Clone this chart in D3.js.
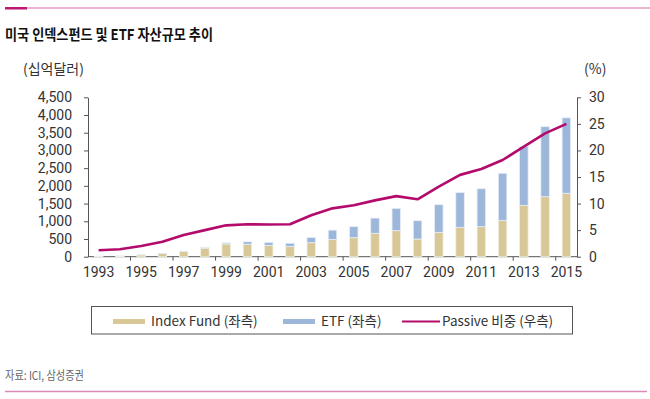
<!DOCTYPE html>
<html>
<head>
<meta charset="utf-8">
<script src="https://cdn.jsdelivr.net/npm/d3@7"></script>
<style>
  body { margin: 0; background: #fff; }
  svg text { font-family: "Noto Sans CJK KR", "Noto Sans", sans-serif; }
</style>
</head>
<body>
<svg id="chart" width="650" height="399"></svg>
<script>
// years on the x axis
const years = d3.range(1993, 2016);
// 인덱스펀드 (십억달러)
const indexFund = [15, 20, 50, 90, 150, 240, 360, 350, 320, 285, 395, 490, 537, 660, 735, 500, 688, 829, 848, 1026, 1450, 1695, 1790];
// ETF (십억달러)
const etf = [1, 1, 2, 3, 7, 16, 30, 70, 85, 95, 150, 260, 310, 430, 630, 515, 780, 980, 1070, 1330, 1660, 1975, 2130];
// Passive 비중 (%)
const passive = [1.2, 1.4, 2.0, 2.8, 4.1, 5.0, 5.9, 6.1, 6.05, 6.1, 7.8, 9.1, 9.7, 10.6, 11.4, 10.8, 13.2, 15.4, 16.5, 18.2, 20.7, 23.2, 25.0];
const leftTicks = [0, 500, 1000, 1500, 2000, 2500, 3000, 3500, 4000, 4500];
const rightTicks = [0, 5, 10, 15, 20, 25, 30];

const svg = d3.select("#chart");
const plotL = 88, plotR = 577, plotT = 97.3, plotB = 256.7;
const numFont = "Roboto, 'Liberation Sans', sans-serif";

const colIndex = "#d9c897", colEtf = "#9cb7da", colLine = "#b40a6c";

// top / bottom rules
svg.append("line").attr("x1", 5).attr("x2", 650).attr("y1", 8).attr("y2", 8)
  .attr("stroke", "#d66aa3").attr("stroke-width", 1);
svg.append("rect").attr("x", 5).attr("y", 7).attr("width", 22).attr("height", 2.5).attr("fill", "#bf1673");
svg.append("line").attr("x1", 5).attr("x2", 647).attr("y1", 391.5).attr("y2", 391.5)
  .attr("stroke", "#d98ab5").attr("stroke-width", 1.5);

svg.append("text").attr("x", 5).attr("y", 40).text("미국 인덱스펀드 및 ETF 자산규모 추이")
  .attr("font-size", 15).attr("font-weight", "bold").attr("fill", "#111")
  .attr("textLength", 208).attr("lengthAdjust", "spacingAndGlyphs");

svg.append("text").attr("x", 5).attr("y", 380).text("자료: ICI, 삼성증권")
  .attr("font-size", 12).attr("fill", "#666")
  .attr("textLength", 79).attr("lengthAdjust", "spacingAndGlyphs");

// scales
const x = d3.scaleBand().domain(years).range([plotL, plotR]).paddingInner(0.6).paddingOuter(0.3);
const yL = d3.scaleLinear().domain([0, 4500]).range([plotB, plotT]);
const yR = d3.scaleLinear().domain([0, 30]).range([plotB, plotT]);
const step = (plotR - plotL) / years.length;

// axes
const fmt = d3.format(",");
const gL = svg.append("g").attr("transform", `translate(${plotL},0)`)
  .call(d3.axisLeft(yL).tickValues(leftTicks).tickFormat(fmt).tickSize(4).tickSizeOuter(0).tickPadding(12));
const gR = svg.append("g").attr("transform", `translate(${plotR},0)`)
  .call(d3.axisRight(yR).tickValues(rightTicks).tickSize(4).tickSizeOuter(0).tickPadding(8));

// x axis: ticks at the left edge of every odd year, labels centred on the bar
const gX = svg.append("g").attr("transform", `translate(0,${plotB})`);
gX.append("line").attr("x1", plotL).attr("x2", plotR).attr("stroke", "#555");
const odd = years.filter(d => d % 2 === 1);
gX.selectAll("line.tick").data(odd.slice(1)).join("line").attr("class", "tick")
  .attr("x1", d => plotL + years.indexOf(d) * step)
  .attr("x2", d => plotL + years.indexOf(d) * step)
  .attr("y1", 0).attr("y2", 4).attr("stroke", "#555");
gX.selectAll("text").data(odd).join("text")
  .attr("x", d => x(d) + x.bandwidth() / 2).attr("y", 20.5)
  .attr("text-anchor", "middle").attr("font-size", 14).attr("fill", "#333")
  .style("font-family", numFont).text(d => d);

[gL, gR].forEach(g => {
  g.select(".domain").attr("stroke", "#555");
  g.selectAll(".tick line").attr("stroke", "#555");
  g.selectAll(".tick text").attr("font-size", 14).attr("fill", "#333")
    .style("font-family", numFont);
});

svg.append("text").attr("x", 23).attr("y", 74).text("(십억달러)").attr("font-size", 14).attr("fill", "#333");
svg.append("text").attr("x", 584).attr("y", 74).text("(%)").attr("font-size", 14).attr("fill", "#333");

// stacked bars
const bars = svg.append("g");
bars.selectAll("rect.idx").data(years).join("rect").attr("class", "idx")
  .attr("x", d => x(d)).attr("width", x.bandwidth())
  .attr("y", (d, i) => yL(indexFund[i])).attr("height", (d, i) => plotB - yL(indexFund[i]))
  .attr("fill", colIndex).attr("stroke", "#f3efe2").attr("stroke-width", 0.8);
bars.selectAll("rect.etf").data(years).join("rect").attr("class", "etf")
  .attr("x", d => x(d)).attr("width", x.bandwidth())
  .attr("y", (d, i) => yL(indexFund[i] + etf[i])).attr("height", (d, i) => yL(indexFund[i]) - yL(indexFund[i] + etf[i]))
  .attr("fill", colEtf).attr("stroke", "#e6edf6").attr("stroke-width", 0.8);

// passive share line
const line = d3.line().x((d, i) => x(years[i]) + x.bandwidth() / 2).y(d => yR(d));
svg.append("path").datum(passive).attr("d", line)
  .attr("fill", "none").attr("stroke", colLine).attr("stroke-width", 2.6).attr("stroke-linejoin", "round");

// legend
const lg = svg.append("g");
lg.append("rect").attr("x", 91.5).attr("y", 306.5).attr("width", 481).attr("height", 27.5)
  .attr("fill", "none").attr("stroke", "#555");
const items = [
  { label: "Index Fund (좌측)", x: 113, kind: "bar", color: colIndex },
  { label: "ETF (좌측)", x: 283, kind: "bar", color: colEtf },
  { label: "Passive 비중 (우측)", x: 402, kind: "line", color: colLine }
];
items.forEach(it => {
  if (it.kind === "bar") {
    lg.append("rect").attr("x", it.x).attr("y", 319).attr("width", 32).attr("height", 5).attr("fill", it.color);
  } else {
    lg.append("line").attr("x1", it.x).attr("x2", it.x + 38).attr("y1", 321.5).attr("y2", 321.5)
      .attr("stroke", it.color).attr("stroke-width", 2);
  }
  lg.append("text").attr("x", it.x + (it.kind === "bar" ? 38 : 40)).attr("y", 326)
    .attr("font-size", 13.5).attr("fill", "#333").text(it.label);
});
</script>
</body>
</html>
